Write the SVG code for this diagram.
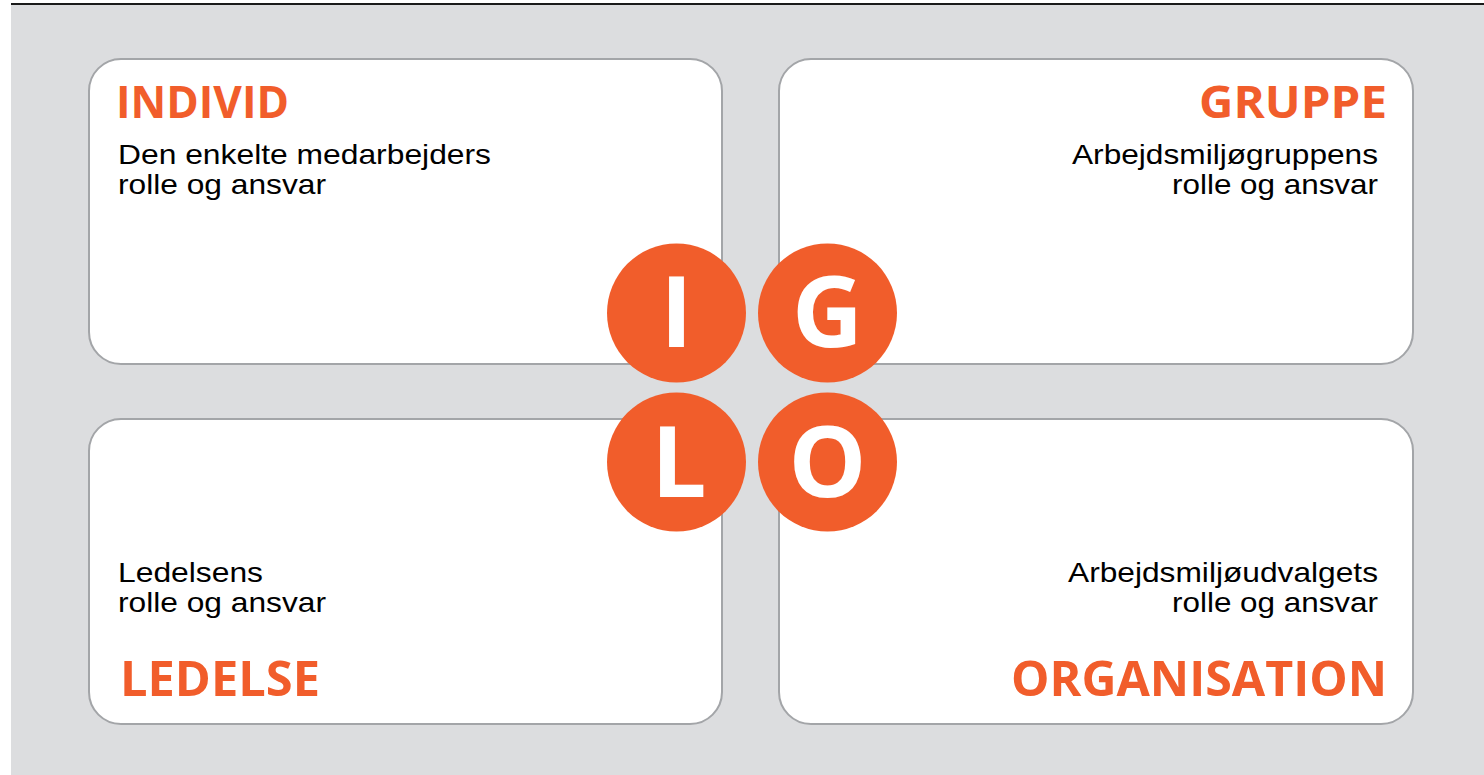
<svg xmlns="http://www.w3.org/2000/svg" width="1484" height="775" viewBox="0 0 1484 775">
  <style>
    .panel { fill: #ffffff; stroke: #a3a5a8; stroke-width: 2; }
    .head { font-family: "Open Sans", "Noto Sans", sans-serif; font-weight: 700; font-size: 45px; fill: #f15d2b; }
    .head-lg { font-size: 49px; }
    .body { font-family: "Liberation Sans", Arial, sans-serif; font-size: 28px; fill: #000000; }
    .disc { fill: #f15d2b; }
    .letter { font-family: "Open Sans", "Noto Sans", sans-serif; font-weight: 700; font-size: 98px; fill: #ffffff; text-anchor: middle; }
    .end { text-anchor: end; }
  </style>
  <rect x="0" y="0" width="1484" height="775" fill="#ffffff"/>
  <rect x="11" y="5" width="1473" height="770" fill="#dcdddf"/>
  <line x1="11" y1="4" x2="1484" y2="4" stroke="#1a1a1a" stroke-width="2"/>

  <g id="individ">
    <rect class="panel" x="89" y="59" width="633" height="305" rx="32"/>
    <text class="head" x="116" y="118" textLength="173" lengthAdjust="spacingAndGlyphs">INDIVID</text>
    <text class="body" x="118" y="164" textLength="373" lengthAdjust="spacingAndGlyphs">Den enkelte medarbejders</text>
    <text class="body" x="118" y="194" textLength="208" lengthAdjust="spacingAndGlyphs">rolle og ansvar</text>
  </g>

  <g id="gruppe">
    <rect class="panel" x="779" y="59" width="634" height="305" rx="32"/>
    <text class="head end" x="1387" y="118" textLength="188" lengthAdjust="spacingAndGlyphs">GRUPPE</text>
    <text class="body end" x="1378" y="164" textLength="306" lengthAdjust="spacingAndGlyphs">Arbejdsmiljøgruppens</text>
    <text class="body end" x="1378" y="194" textLength="206" lengthAdjust="spacingAndGlyphs">rolle og ansvar</text>
  </g>

  <g id="ledelse">
    <rect class="panel" x="89" y="419" width="633" height="305" rx="32"/>
    <text class="body" x="118" y="582" textLength="145" lengthAdjust="spacingAndGlyphs">Ledelsens</text>
    <text class="body" x="118" y="612" textLength="208" lengthAdjust="spacingAndGlyphs">rolle og ansvar</text>
    <text class="head head-lg" x="120" y="696" textLength="200" lengthAdjust="spacingAndGlyphs">LEDELSE</text>
  </g>

  <g id="organisation">
    <rect class="panel" x="779" y="419" width="634" height="305" rx="32"/>
    <text class="body end" x="1378" y="582" textLength="310" lengthAdjust="spacingAndGlyphs">Arbejdsmiljøudvalgets</text>
    <text class="body end" x="1378" y="612" textLength="206" lengthAdjust="spacingAndGlyphs">rolle og ansvar</text>
    <text class="head head-lg end" x="1387" y="696" textLength="376" lengthAdjust="spacingAndGlyphs">ORGANISATION</text>
  </g>

  <g id="iglo">
    <g id="disc-i">
      <circle class="disc" cx="676.5" cy="313" r="69.5"/>
      <text class="letter" x="676.5" y="347">I</text>
    </g>
    <g id="disc-g">
      <circle class="disc" cx="827.5" cy="313" r="69.5"/>
      <text class="letter" x="827.5" y="347">G</text>
    </g>
    <g id="disc-l">
      <circle class="disc" cx="676.5" cy="462" r="69.5"/>
      <text class="letter" x="679" y="497">L</text>
    </g>
    <g id="disc-o">
      <circle class="disc" cx="827.5" cy="462" r="69.5"/>
      <text class="letter" x="827.5" y="497">O</text>
    </g>
  </g>

  <g id="connectors"/>
</svg>
